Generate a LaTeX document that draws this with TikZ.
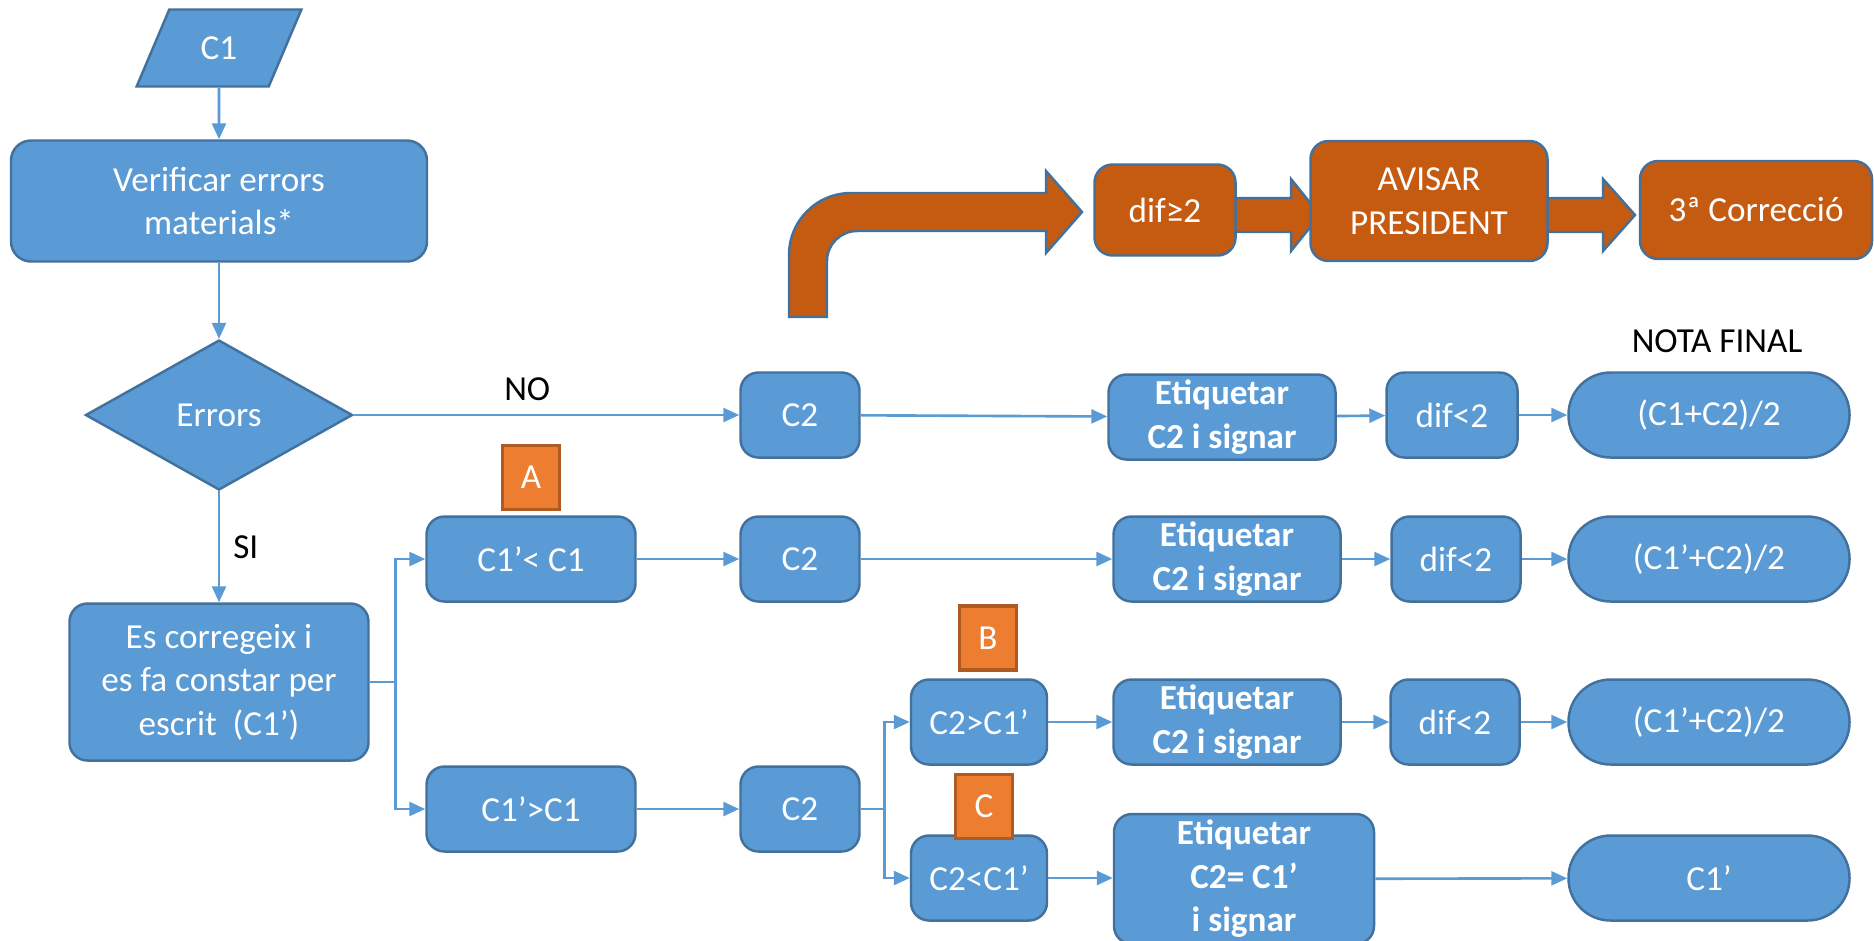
\documentclass[tikz,border=0pt]{standalone}
\usepackage{fontspec}
\setmainfont{Carlito}
\usetikzlibrary{shapes.geometric,arrows.meta}
\definecolor{fillblue}{HTML}{5B9BD5}
\definecolor{lineblue}{HTML}{41719C}
\definecolor{rust}{HTML}{C55A11}
\definecolor{tagorange}{HTML}{ED7D31}
\definecolor{tagline}{HTML}{AE5A21}
\begin{document}
\begin{tikzpicture}[font=\fontsize{10}{12.4}\selectfont]
	\tikzstyle{blk}=[rectangle,rounded corners=0.18cm,draw=lineblue,line width=0.7pt,fill=fillblue,text=white,align=center,minimum height=0.85cm,inner sep=1pt]
	\tikzstyle{etq}=[blk,font=\fontsize{10}{12.4}\selectfont\bfseries,minimum width=2.27cm]
	\tikzstyle{fin}=[blk,rounded corners=0.42cm,minimum width=2.81cm]
	\tikzstyle{hot}=[blk,fill=rust]
	\tikzstyle{tag}=[rectangle,draw=tagline,line width=1pt,fill=tagorange,text=white,minimum width=0.57cm,minimum height=0.64cm,inner sep=0pt]
	\tikzstyle{fat}=[draw=lineblue,line width=0.7pt,fill=rust]
	\tikzstyle{conn}=[color=fillblue,line width=0.75pt,-{Triangle[length=0.16cm,width=0.14cm]}]
	\tikzstyle{lbl}=[text=black,inner sep=2pt]
	\useasboundingbox (0,0) rectangle (18.74,-9.40);

	% columna esquerra
	\node[trapezium,trapezium left angle=67,trapezium right angle=113,trapezium stretches=true,draw=lineblue,line width=0.7pt,fill=fillblue,text=white,minimum width=1.65cm,minimum height=0.77cm] (c_1) at (2.19,-0.48) {C1};
	\node[blk,rounded corners=0.2cm,minimum width=4.16cm,minimum height=1.21cm] (ver) at (2.19,-2.01) {Verificar errors\\materials*};
	\node[diamond,draw=lineblue,line width=0.7pt,fill=fillblue,text=white,minimum width=2.67cm,minimum height=1.5cm,inner sep=0pt] (err) at (2.19,-4.15) {Errors};
	\node[blk,minimum width=2.99cm,minimum height=1.57cm] (corr) at (2.19,-6.82) {Es corregeix i\\es fa constar per\\escrit\ \ (C1’)};

	% tercera correccio
	\draw[fat] (7.89,-3.17) -- (7.89,-2.55) arc[start angle=180,end angle=90,radius=0.62] -- (10.46,-1.93) -- (10.46,-1.71) -- (10.82,-2.12) -- (10.46,-2.53) -- (10.46,-2.31) -- (8.57,-2.31) arc[start angle=90,end angle=180,radius=0.30] -- (8.27,-3.17) -- cycle;
	\draw[fat] (12.30,-1.98) -- (12.91,-1.98) -- (12.91,-1.79) -- (13.20,-2.15) -- (12.91,-2.51) -- (12.91,-2.32) -- (12.30,-2.32) -- cycle;
	\draw[fat] (15.42,-1.98) -- (16.03,-1.98) -- (16.03,-1.79) -- (16.35,-2.15) -- (16.03,-2.51) -- (16.03,-2.32) -- (15.42,-2.32) -- cycle;
	\node[hot,minimum width=1.41cm,minimum height=0.91cm] (dge) at (11.65,-2.10) {dif≥2};
	\node[hot,minimum width=2.37cm,minimum height=1.20cm] (avs) at (14.29,-2.01) {AVISAR\\PRESIDENT};
	\node[hot,minimum width=2.32cm,minimum height=0.98cm] (c_3) at (17.56,-2.10) {3ª Correcció};
	\node[lbl] (nota) at (17.17,-3.41) {NOTA FINAL};

	% sense errors
	\node[blk,minimum width=1.19cm] (c2_1) at (8.00,-4.15) {C2};
	\node[etq] (et_1) at (12.22,-4.17) {Etiquetar\\C2 i signar};
	\node[blk,minimum width=1.31cm] (d_1) at (14.52,-4.15) {dif<2};
	\node[fin] (f_1) at (17.09,-4.15) {(C1+C2)/2};

	% C1' < C1
	\node[blk,minimum width=2.09cm] (lt_1) at (5.31,-5.59) {C1’< C1};
	\node[tag] (t_a) at (5.31,-4.775) {A};
	\node[blk,minimum width=1.19cm] (c2_2) at (8.00,-5.59) {C2};
	\node[etq] (et_2) at (12.27,-5.59) {Etiquetar\\C2 i signar};
	\node[blk,minimum width=1.29cm] (d_2) at (14.56,-5.59) {dif<2};
	\node[fin] (f_2) at (17.09,-5.59) {(C1’+C2)/2};

	% C1' > C1
	\node[blk,minimum width=2.09cm] (gt_1) at (5.31,-8.09) {C1’>C1};
	\node[blk,minimum width=1.19cm] (c2_4) at (8.00,-8.09) {C2};
	\node[blk,minimum width=1.36cm] (gt_2) at (9.79,-7.22) {C2>C1’};
	\node[tag] (t_b) at (9.88,-6.38) {B};
	\node[etq] (et_3) at (12.27,-7.22) {Etiquetar\\C2 i signar};
	\node[blk,minimum width=1.29cm] (d_3) at (14.55,-7.22) {dif<2};
	\node[fin] (f_3) at (17.09,-7.22) {(C1’+C2)/2};
	\node[blk,minimum width=1.36cm] (lt_2) at (9.79,-8.78) {C2<C1’};
	\node[tag] (t_c) at (9.84,-8.065) {C};
	\node[etq,minimum width=2.60cm,minimum height=1.30cm] (et_5) at (12.44,-8.79) {Etiquetar\\C2= C1’\\i signar};
	\node[fin] (f_5) at (17.09,-8.78) {C1’};

	\path[conn] (c_1) edge (ver) (ver) edge (err)
		(err) edge node[lbl,right=0.06cm] (l_si) {SI} (corr)
		(err) edge node[lbl,above=0.06cm,pos=0.45] (l_no) {NO} (c2_1)
		(c2_1) edge (et_1) (et_1) edge (d_1) (d_1) edge (f_1)
		(lt_1) edge (c2_2) (c2_2) edge (et_2) (et_2) edge (d_2) (d_2) edge (f_2)
		(gt_2) edge (et_3) (et_3) edge (d_3) (d_3) edge (f_3)
		(gt_1) edge (c2_4)
		(lt_2) edge (lt_2 -| et_5.west) (et_5) edge (f_5);
	\draw[conn] (corr.east) -- ++(0.26,0) |- (lt_1);
	\draw[conn] (corr.east) -- ++(0.26,0) |- (gt_1);
	\draw[conn] (c2_4.east) -- ++(0.24,0) |- (gt_2);
	\draw[conn] (c2_4.east) -- ++(0.24,0) |- (lt_2);
\end{tikzpicture}
\end{document}
